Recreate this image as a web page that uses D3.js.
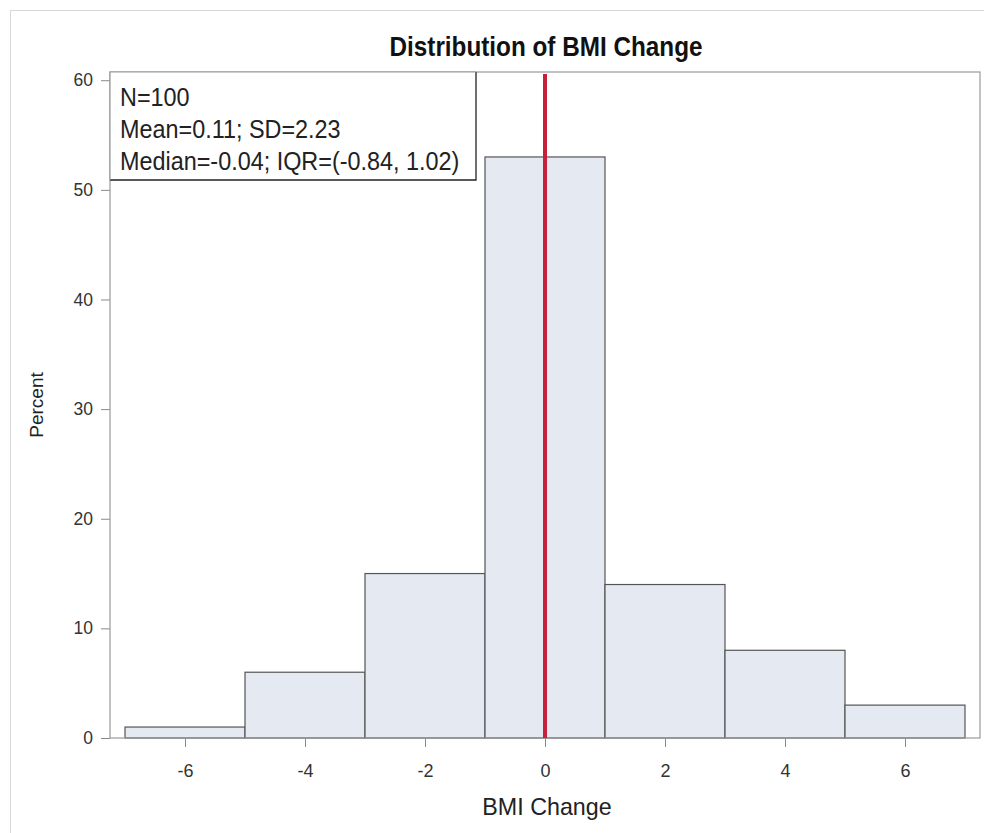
<!DOCTYPE html>
<html>
<head>
<meta charset="utf-8">
<script src="https://cdn.jsdelivr.net/npm/d3@7/dist/d3.min.js"></script>
<style>
  html, body { margin: 0; padding: 0; background: #fff; }
  svg { display: block; font-family: "Liberation Sans", Arial, sans-serif; }
</style>
</head>
<body>
<svg id="chart" width="984" height="833"></svg>
<script>
// ---- data ----
const binStarts = [-7, -5, -3, -1, 1, 3, 5];
const binWidth = 2;
const percents = [1, 6, 15, 53, 14, 8, 3];
const xTicks = [-6, -4, -2, 0, 2, 4, 6];
const yTicks = [0, 10, 20, 30, 40, 50, 60];
const refValue = 0;
const statsLines = ["N=100", "Mean=0.11; SD=2.23", "Median=-0.04; IQR=(-0.84, 1.02)"];
const titleText = "Distribution of BMI Change";
const xLabel = "BMI Change";
const yLabel = "Percent";

// ---- layout ----
const svg = d3.select("#chart");
const L = 110, R = 980, T = 72, B = 738;
const x = d3.scaleLinear().domain([-7.25, 7.25]).range([L, R]);
const y = d3.scaleLinear().domain([0, 60.75]).range([B, T]);
const fmt = (d) => String(d);

// outer border
svg.append("rect").attr("x", 10.5).attr("y", 10.5).attr("width", 990).attr("height", 900)
  .attr("fill", "none").attr("stroke", "#d8d8d8").attr("stroke-width", 1);

// bars
svg.append("g").selectAll("rect").data(binStarts).join("rect")
  .attr("x", (d) => x(d))
  .attr("y", (d, i) => y(percents[i]))
  .attr("width", (d) => x(d + binWidth) - x(d))
  .attr("height", (d, i) => y(0) - y(percents[i]))
  .attr("fill", "#e4e9f2")
  .attr("stroke", "#555")
  .attr("stroke-width", 1.2);

// axes
const yAxis = svg.append("g").attr("transform", `translate(${L},0)`)
  .call(d3.axisLeft(y).tickValues(yTicks).tickFormat(fmt).tickSize(9).tickPadding(8));
yAxis.select(".domain").remove();
yAxis.selectAll("line").attr("stroke", "#888");
yAxis.selectAll("text").attr("font-size", 17.5).attr("fill", "#333")
  .attr("font-family", "'Liberation Sans', Arial, sans-serif");

const xAxis = svg.append("g").attr("transform", `translate(0,${B})`)
  .call(d3.axisBottom(x).tickValues(xTicks).tickFormat(fmt).tickSize(9).tickPadding(17));
xAxis.select(".domain").remove();
xAxis.selectAll("line").attr("stroke", "#888");
xAxis.selectAll("text").attr("font-size", 18).attr("fill", "#333")
  .attr("font-family", "'Liberation Sans', Arial, sans-serif");

// plot frame
svg.append("rect").attr("x", L).attr("y", T).attr("width", R - L).attr("height", B - T)
  .attr("fill", "none").attr("stroke", "#999").attr("stroke-width", 1.2);

// reference line
svg.append("line")
  .attr("x1", x(refValue)).attr("x2", x(refValue))
  .attr("y1", T + 2).attr("y2", B)
  .attr("stroke", "#c8203a").attr("stroke-width", 4);

// stats box
svg.append("rect").attr("x", L).attr("y", T).attr("width", 366).attr("height", 108)
  .attr("fill", "#fff").attr("stroke", "none");
svg.append("path")
  .attr("d", `M${L},${T + 108}H${L + 366}V${T}`)
  .attr("fill", "none").attr("stroke", "#222").attr("stroke-width", 1.3);
svg.append("path")
  .attr("d", `M${L},${T + 108}V${T}H${L + 366}`)
  .attr("fill", "none").attr("stroke", "#999").attr("stroke-width", 1.2);
const boxG = svg.append("g").attr("transform", "translate(120,0) scale(0.9,1)");
boxG.selectAll("text").data(statsLines).join("text")
  .attr("x", 0)
  .attr("y", (d, i) => 106 + i * 32)
  .attr("font-size", 26)
  .attr("fill", "#222")
  .text((d) => d);

// title
svg.append("g").attr("transform", "translate(546,56) scale(0.9,1)")
  .append("text").attr("text-anchor", "middle")
  .attr("font-size", 27).attr("font-weight", "bold").attr("fill", "#111")
  .text(titleText);

// x label
svg.append("g").attr("transform", "translate(547,815) scale(0.97,1)")
  .append("text").attr("text-anchor", "middle")
  .attr("font-size", 24).attr("fill", "#222")
  .text(xLabel);

// y label
svg.append("text")
  .attr("transform", `translate(43,${(T + B) / 2}) rotate(-90)`)
  .attr("text-anchor", "middle")
  .attr("font-size", 19).attr("fill", "#222")
  .text(yLabel);
</script>
</body>
</html>
